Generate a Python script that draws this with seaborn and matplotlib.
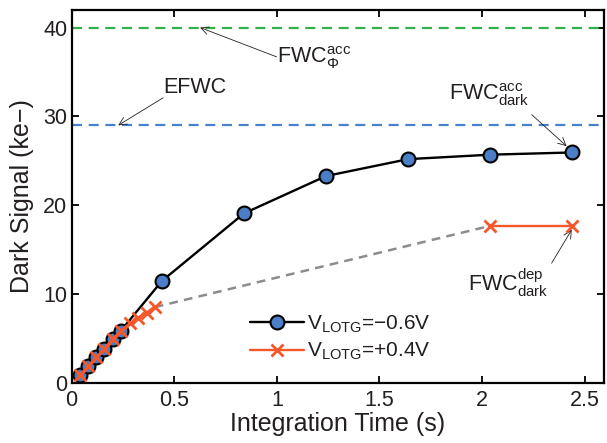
import matplotlib
matplotlib.use("Agg")
import matplotlib.pyplot as plt
import seaborn as sns
import pandas as pd
from matplotlib.lines import Line2D

# Accumulation-mode pixel (V_LOTG = -0.6 V)
t_acc = [0.04, 0.08, 0.12, 0.16, 0.20, 0.24, 0.44, 0.84, 1.24, 1.64, 2.04, 2.44]
sig_acc = [0.9, 1.9, 2.9, 3.9, 5.0, 5.9, 11.5, 19.1, 23.3, 25.2, 25.7, 25.95]

# Depletion-mode pixel (V_LOTG = +0.4 V): short exposures and saturated long exposures
t_dep_short = [0.04, 0.08, 0.12, 0.16, 0.20, 0.24, 0.285, 0.325, 0.365, 0.405]
sig_dep_short = [0.9, 1.9, 2.9, 3.9, 5.0, 5.9, 6.75, 7.35, 7.95, 8.55]
t_dep_long = [2.04, 2.44]
sig_dep_long = [17.7, 17.7]

# Reference capacity levels (ke-)
fwc_phi_acc = 40.0
efwc = 29.0

legend_labels = [r"V$_{\mathrm{LOTG}}$=−0.6V", r"V$_{\mathrm{LOTG}}$=+0.4V"]

sns.set_style("ticks")
plt.rcParams["font.family"] = ["Liberation Sans", "DejaVu Sans"]
plt.rcParams["mathtext.fontset"] = "custom"
plt.rcParams["mathtext.rm"] = "Liberation Sans"
plt.rcParams["mathtext.it"] = "Liberation Sans:italic"
plt.rcParams["mathtext.bf"] = "Liberation Sans:bold"

TXT = "#231f20"
BLUE = "#4a7fc8"
ORANGE = "#f4572a"
GREEN = "#2fb24a"
HBLUE = "#4a7fd0"
GRAY = "#8c8c8c"

fig = plt.figure(figsize=(6.07, 4.43), dpi=100)
ax = fig.add_axes([0.118, 0.135, 0.877, 0.843])

# horizontal capacity levels
ax.axhline(fwc_phi_acc, color=GREEN, lw=1.6, ls=(0, (4.5, 3)), zorder=1)
ax.axhline(efwc, color=HBLUE, lw=1.6, ls=(0, (4.5, 3)), zorder=1)

# dashed connector across the depletion-mode gap
gap = pd.DataFrame({"t": [t_dep_short[-1], t_dep_long[0]],
                    "s": [sig_dep_short[-1], sig_dep_long[0]]})
sns.lineplot(data=gap, x="t", y="s", ax=ax, color=GRAY, lw=1.8,
             linestyle=(0, (3.5, 2.5)), zorder=2)

df_acc = pd.DataFrame({"t": t_acc, "s": sig_acc})
sns.lineplot(data=df_acc, x="t", y="s", ax=ax, color="black", lw=1.7,
             marker="o", markersize=10, markerfacecolor=BLUE,
             markeredgecolor="black", markeredgewidth=1.5, zorder=3)

for tt, ss in [(t_dep_short, sig_dep_short), (t_dep_long, sig_dep_long)]:
    d = pd.DataFrame({"t": tt, "s": ss})
    sns.lineplot(data=d, x="t", y="s", ax=ax, color=ORANGE, lw=1.7,
                 marker="x", markersize=8, markeredgewidth=2,
                 markeredgecolor=ORANGE, zorder=4)

ax.set_xlim(0, 2.594)
ax.set_ylim(0, 42)
ax.set_xticks([0, 0.5, 1, 1.5, 2, 2.5])
ax.set_xticklabels(["0", "0.5", "1", "1.5", "2", "2.5"])
ax.set_yticks([0, 10, 20, 30, 40])
ax.set_xlabel("Integration Time (s)", fontsize=18, color=TXT)
ax.set_ylabel("Dark Signal (ke−)", fontsize=18, color=TXT)
ax.xaxis.set_label_coords(0.5, -0.076)
ax.yaxis.set_label_coords(-0.071, 0.5)

for sp in ax.spines.values():
    sp.set_visible(True)
    sp.set_linewidth(1.6)
    sp.set_color("black")
ax.tick_params(direction="in", length=5, width=1.3, top=True, right=True,
               labelsize=15.5, labelcolor=TXT, color="black")
ax.tick_params(axis="x", pad=5)
ax.tick_params(axis="y", pad=3)

# annotations
arrow = dict(arrowstyle="->", lw=0.6, color=TXT, shrinkA=0, shrinkB=0,
             mutation_scale=14)
ax.annotate("", xy=(0.626, 40.0), xytext=(0.999, 36.7), arrowprops=arrow)
ax.text(0.999, 36.06, r"FWC$^{\mathrm{acc}}_{\Phi}$", fontsize=15.5,
        color=TXT, ha="left", va="baseline")

ax.annotate("", xy=(0.227, 29.0), xytext=(0.446, 32.1), arrowprops=arrow)
ax.text(0.445, 32.68, "EFWC", fontsize=15.5, color=TXT, ha="left",
        va="baseline")

ax.annotate("", xy=(2.412, 26.66), xytext=(2.242, 30.2), arrowprops=arrow)
ax.text(1.840, 31.9, r"FWC$^{\mathrm{acc}}_{\mathrm{dark}}$", fontsize=15.5,
        color=TXT, ha="left", va="baseline")

ax.annotate("", xy=(2.437, 17.27), xytext=(2.339, 13.5), arrowprops=arrow)
ax.text(1.933, 10.32, r"FWC$^{\mathrm{dep}}_{\mathrm{dark}}$", fontsize=15.5,
        color=TXT, ha="left", va="baseline")

handles = [
    Line2D([], [], color="black", lw=1.7, marker="o", markersize=10,
           markerfacecolor=BLUE, markeredgecolor="black", markeredgewidth=1.5),
    Line2D([], [], color=ORANGE, lw=1.7, marker="x", markersize=8,
           markeredgewidth=2),
]
leg = ax.legend(handles, legend_labels, loc="lower left",
                bbox_to_anchor=(0.30, 0.006), frameon=False, fontsize=15,
                handlelength=2.6, handletextpad=0.15, labelspacing=0.3)
for t in leg.get_texts():
    t.set_color(TXT)

fig.savefig("out.png", dpi=100)
